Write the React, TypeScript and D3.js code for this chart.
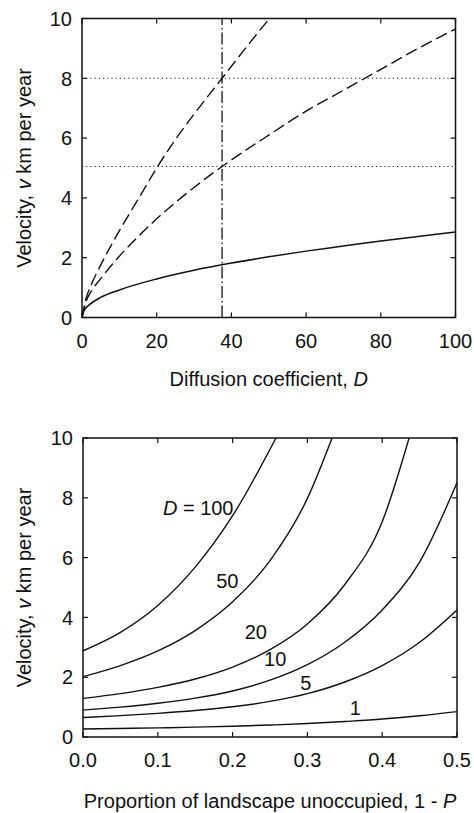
import React from "react";
import * as d3 from "d3";

// ---------- Top panel data ----------
const topXTicks = [0, 20, 40, 60, 80, 100];
const yTicks = [0, 2, 4, 6, 8, 10];
const solidD = [0, 0.5, 1, 2, 5, 10, 20, 30, 40, 50, 60, 70, 80, 90, 100];
const solidV = [0, 0.22, 0.31, 0.43, 0.67, 0.92, 1.29, 1.58, 1.82, 2.03, 2.22, 2.39, 2.56, 2.71, 2.86];
const upperD = [0, 1, 2.5, 5, 10, 15, 20, 25, 30, 37.5, 45, 50.2];
const upperV = [0, 0.6, 1.1, 1.75, 2.9, 3.95, 5.0, 5.95, 6.8, 8.0, 9.2, 10];
const lowerD = [0, 1, 2.5, 5, 10, 15, 20, 30, 37.5, 50, 60, 70, 80, 90, 100];
const lowerV = [0, 0.5, 0.88, 1.3, 2.05, 2.7, 3.3, 4.35, 5.05, 6.1, 6.9, 7.6, 8.3, 9.0, 9.65];
const refD = 37.5;
const refV = [8, 5.05];

// ---------- Bottom panel data ----------
const botXTicks = [0, 0.1, 0.2, 0.3, 0.4, 0.5];
const d100P = [0, 0.05, 0.1, 0.15, 0.2, 0.258];
const d100V = [2.88, 3.5, 4.4, 5.68, 7.4, 10];
const d50P = [0, 0.05, 0.1, 0.15, 0.2, 0.25, 0.3, 0.333];
const d50V = [2.02, 2.39, 2.88, 3.56, 4.52, 5.9, 7.98, 10];
const d20P = [0, 0.05, 0.1, 0.15, 0.2, 0.25, 0.3, 0.35, 0.4, 0.436];
const d20V = [1.29, 1.45, 1.66, 1.94, 2.34, 2.92, 3.78, 5.1, 7.2, 10];
const d10P = [0, 0.05, 0.1, 0.15, 0.2, 0.25, 0.3, 0.35, 0.4, 0.45, 0.5];
const d10V = [0.9, 1.0, 1.13, 1.3, 1.54, 1.9, 2.42, 3.17, 4.25, 5.85, 8.5];
const d5P = [0, 0.05, 0.1, 0.15, 0.2, 0.25, 0.3, 0.35, 0.4, 0.45, 0.5];
const d5V = [0.65, 0.715, 0.79, 0.885, 1.01, 1.19, 1.45, 1.84, 2.39, 3.17, 4.25];
const d1P = [0, 0.05, 0.1, 0.15, 0.2, 0.25, 0.3, 0.35, 0.4, 0.45, 0.5];
const d1V = [0.27, 0.285, 0.305, 0.33, 0.36, 0.4, 0.45, 0.52, 0.6, 0.71, 0.85];
const curveLabels = ["100", "50", "20", "10", "5", "1"];

const FONT = "'Liberation Sans', Arial, sans-serif";
const FS = 20;

function zip(xs: number[], ys: number[]): [number, number][] {
  return xs.map((x, i) => [x, ys[i]]);
}

function Frame({ x, y, xTicks, fmt, xl, yl }: any) {
  const [x0, x1] = x.range();
  const [y0, y1] = y.range();
  const tl = 5;
  return (
    <g>
      <rect x={x0} y={y1} width={x1 - x0} height={y0 - y1} fill="none" stroke="#111" strokeWidth={1.5} />
      {xTicks.map((t: number) => (
        <g key={"x" + t}>
          <line x1={x(t)} x2={x(t)} y1={y0} y2={y0 - tl} stroke="#111" strokeWidth={1.2} />
          <line x1={x(t)} x2={x(t)} y1={y1} y2={y1 + tl} stroke="#111" strokeWidth={1.2} />
          <text x={x(t)} y={y0 + 30} textAnchor="middle" fontSize={FS} fontFamily={FONT} fill="#111">
            {fmt(t)}
          </text>
        </g>
      ))}
      {yTicks.map((t) => (
        <g key={"y" + t}>
          <line x1={x0} x2={x0 + tl} y1={y(t)} y2={y(t)} stroke="#111" strokeWidth={1.2} />
          <line x1={x1} x2={x1 - tl} y1={y(t)} y2={y(t)} stroke="#111" strokeWidth={1.2} />
          <text x={x0 - 10} y={y(t)} dy="0.36em" textAnchor="end" fontSize={FS} fontFamily={FONT} fill="#111">
            {t}
          </text>
        </g>
      ))}
      <text
        transform={`translate(31,${(y0 + y1) / 2}) rotate(-90)`}
        textAnchor="middle"
        fontSize={FS}
        fontFamily={FONT}
        fill="#111"
      >
        {yl}
      </text>
      <text x={(x0 + x1) / 2} y={xl.y} textAnchor="middle" fontSize={FS} fontFamily={FONT} fill="#111">
        {xl.content}
      </text>
    </g>
  );
}

export default function App() {
  const xTop = d3.scaleLinear().domain([0, 100]).range([82, 455.5]);
  const yTop = d3.scaleLinear().domain([0, 10]).range([317.5, 18.5]);
  const xBot = d3.scaleLinear().domain([0, 0.5]).range([83, 457]);
  const yBot = d3.scaleLinear().domain([0, 10]).range([737, 438]);

  const lineTop = d3
    .line<[number, number]>()
    .x((d) => xTop(d[0]))
    .y((d) => yTop(d[1]))
    .curve(d3.curveMonotoneX);
  const lineBot = d3
    .line<[number, number]>()
    .x((d) => xBot(d[0]))
    .y((d) => yBot(d[1]))
    .curve(d3.curveMonotoneX);

  const botSeries = [
    zip(d100P, d100V),
    zip(d50P, d50V),
    zip(d20P, d20V),
    zip(d10P, d10V),
    zip(d5P, d5V),
    zip(d1P, d1V),
  ];
  // label anchor positions in data space
  const labelPos: [number, number][] = [
    [0.154, 7.65],
    [0.193, 5.22],
    [0.231, 3.52],
    [0.257, 2.6],
    [0.298, 1.8],
    [0.364, 0.96],
  ];

  return (
    <svg width={474} height={813} style={{ position: "absolute", left: 0, top: 0, background: "#fff" }}>
      <defs>
        <clipPath id="ct">
          <rect x={82} y={18.5} width={373.5} height={299} />
        </clipPath>
        <clipPath id="cb">
          <rect x={83} y={438} width={374} height={299} />
        </clipPath>
      </defs>

      {/* Top panel */}
      <g clipPath="url(#ct)">
        {refV.map((v) => (
          <line
            key={v}
            x1={xTop(0)}
            x2={xTop(100)}
            y1={yTop(v)}
            y2={yTop(v)}
            stroke="#222"
            strokeWidth={1.1}
            strokeDasharray="1.2,3"
          />
        ))}
        <line
          x1={xTop(refD)}
          x2={xTop(refD)}
          y1={yTop(0)}
          y2={yTop(10)}
          stroke="#111"
          strokeWidth={1.3}
          strokeDasharray="12,3,1.5,3"
        />
        <path d={lineTop(zip(solidD, solidV)) || ""} fill="none" stroke="#111" strokeWidth={1.5} />
        <path d={lineTop(zip(upperD, upperV)) || ""} fill="none" stroke="#111" strokeWidth={1.4} strokeDasharray="12,5" />
        <path d={lineTop(zip(lowerD, lowerV)) || ""} fill="none" stroke="#111" strokeWidth={1.4} strokeDasharray="12,5" />
      </g>
      <Frame
        x={xTop}
        y={yTop}
        xTicks={topXTicks}
        fmt={(t: number) => String(t)}
        yl={
          <>
            Velocity, <tspan fontStyle="italic">v</tspan> km per year
          </>
        }
        xl={{
          y: 386,
          content: (
            <>
              Diffusion coefficient, <tspan fontStyle="italic">D</tspan>
            </>
          ),
        }}
      />

      {/* Bottom panel */}
      <g clipPath="url(#cb)">
        {botSeries.map((s, i) => (
          <path key={i} d={lineBot(s) || ""} fill="none" stroke="#111" strokeWidth={1.4} />
        ))}
      </g>
      {curveLabels.map((l, i) => (
        <text
          key={l}
          x={xBot(labelPos[i][0])}
          y={yBot(labelPos[i][1])}
          dy="0.36em"
          textAnchor="middle"
          fontSize={FS}
          fontFamily={FONT}
          fill="#111"
        >
          {i === 0 ? (
            <>
              <tspan fontStyle="italic">D</tspan> = {l}
            </>
          ) : (
            l
          )}
        </text>
      ))}
      <Frame
        x={xBot}
        y={yBot}
        xTicks={botXTicks}
        fmt={(t: number) => d3.format(".1f")(t)}
        yl={
          <>
            Velocity, <tspan fontStyle="italic">v</tspan> km per year
          </>
        }
        xl={{
          y: 808,
          content: (
            <>
              Proportion of landscape unoccupied, 1 - <tspan fontStyle="italic">P</tspan>
            </>
          ),
        }}
      />
    </svg>
  );
}
